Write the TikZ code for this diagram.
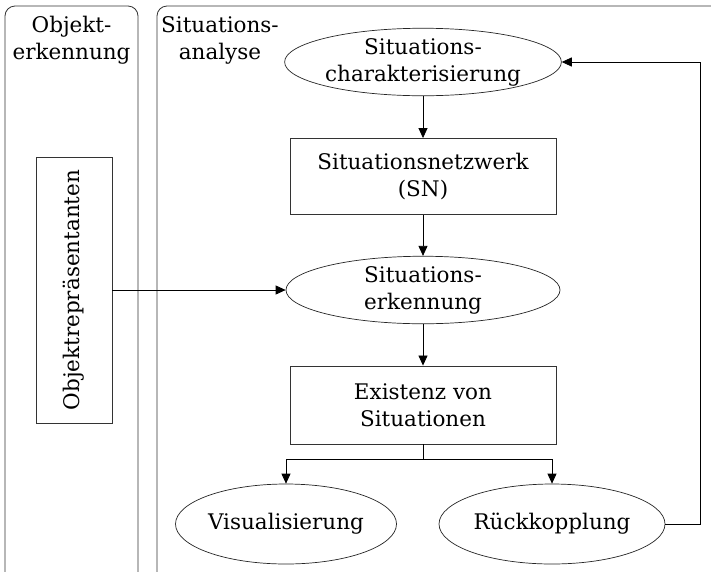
\documentclass[tikz,border=0pt]{standalone}
\usepackage{fontspec}
\setmainfont{DejaVu Serif}
\usetikzlibrary{shapes.geometric,arrows.meta}
\tikzset{
  txt/.style={font=\fontsize{21.5}{27}\selectfont},
  panel/.style={draw=black!80, line width=0.8pt, rounded corners=10pt},
  ell/.style={ellipse, draw=black!85, line width=0.7pt, inner sep=0pt, align=center, txt},
  rbox/.style={rectangle, draw=black!80, line width=0.9pt, inner sep=0pt, align=center, txt},
  ttl/.style={align=center, txt, inner sep=0pt},
  arr/.style={draw=black, line width=0.8pt, -{Triangle[length=10pt,width=9pt]}},
  ln/.style={draw=black, line width=0.8pt}
}
\begin{document}
\begin{tikzpicture}[x=1pt,y=-1pt]
\clip (0,0) rectangle (711,571);
\fill[white] (0,0) rectangle (711,571);
% panels
\draw[panel] (5,6) rectangle (138,600);
\draw[panel] (157,6) rectangle (740,600);
\node[ttl] (t1) at (71.5,40) {Objekt-\\erkennung};
\node[ttl] (t2) at (220,40) {Situations-\\analyse};
% nodes
\node[ell, minimum width=267pt, minimum height=60pt] (sc) at (423,62) {Situations-\\charakterisierung};
\node[rbox, minimum width=266pt, minimum height=76pt] (sn) at (423,176.5) {Situationsnetzwerk\\(SN)};
\node[ell, minimum width=274pt, minimum height=66pt] (se) at (423,290) {Situations-\\erkennung};
\node[rbox, minimum width=266pt, minimum height=78pt] (ex) at (423,405) {Existenz von\\Situationen};
\node[ell, minimum width=221pt, minimum height=80pt] (vis) at (286,524) {Visualisierung};
\node[ell, minimum width=226pt, minimum height=80pt] (rk) at (552,524) {Rückkopplung};
\node[rbox, minimum width=76pt, minimum height=266pt] (obj) at (74,290) {};
\node[txt, rotate=90, inner sep=0pt] (objt) at (74,290) {Objektrepräsentanten};
% connectors
\draw[arr] (sc) -- (sn);
\draw[arr] (sn) -- (se);
\draw[arr] (se) -- (ex);
\coordinate (br) at (423,459);
\draw[ln] (ex.south) -- (br);
\draw[arr] (br) -| (vis.north);
\draw[arr] (br) -| (rk.north);
\coordinate (fb) at (700,524);
\draw[arr] (rk.east) -- (fb) |- (sc.east);
\draw[arr] (obj.east) -- (se.west);
\end{tikzpicture}
\end{document}
